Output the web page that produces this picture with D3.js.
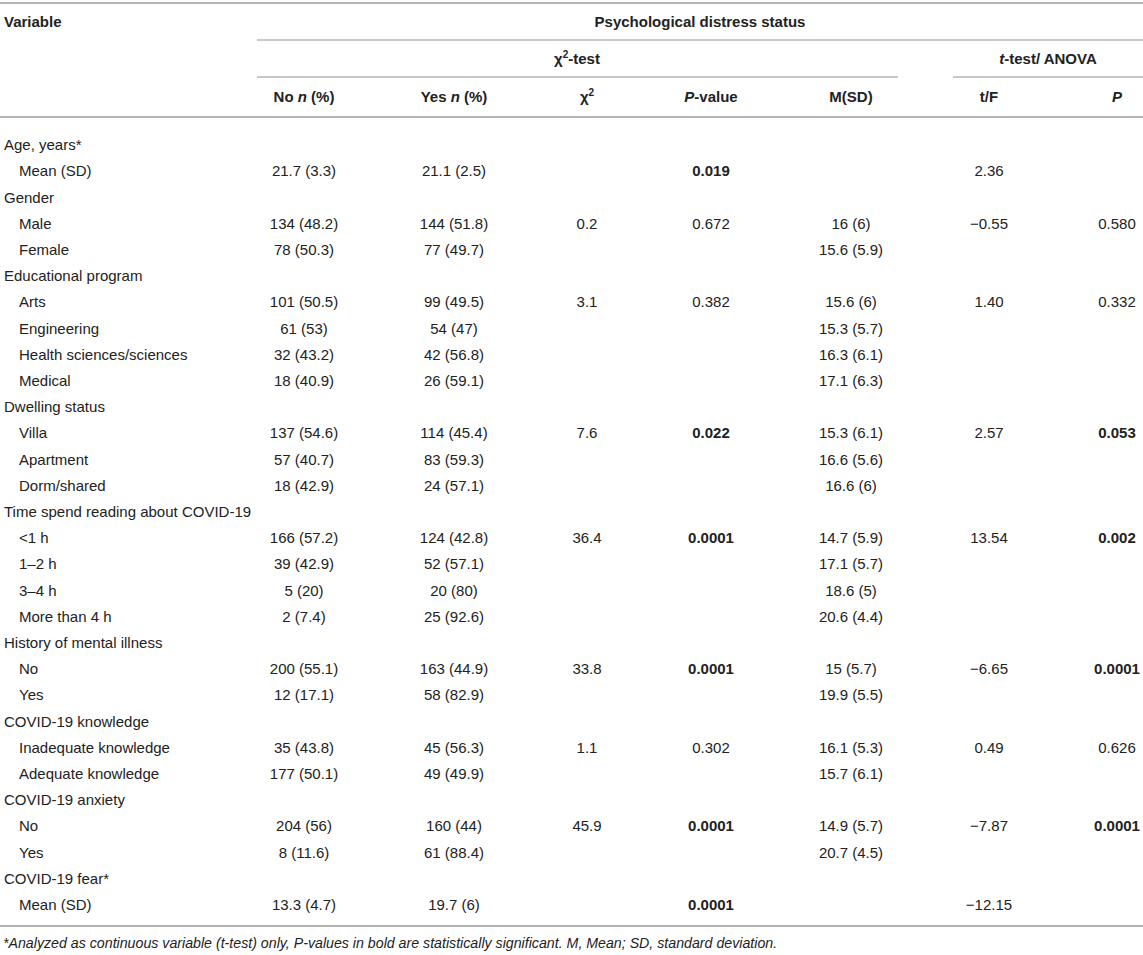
<!DOCTYPE html>
<html>
<head>
<meta charset="utf-8">
<script src="https://cdn.jsdelivr.net/npm/d3@7"></script>
<style>
  body { margin: 0; background: #fff; }
  text { font-family: "Liberation Sans", Arial, Helvetica, sans-serif; font-size: 15px; fill: #222; }
  .hd { font-weight: 700; }
  .note { font-size: 14.2px; font-style: italic; }
</style>
</head>
<body>
<svg id="chart" width="1143" height="955"></svg>
<script>
"use strict";

// ---- Table content (row order as printed)
const rowLabels = [
  "Age, years*", "Mean (SD)",
  "Gender", "Male", "Female",
  "Educational program", "Arts", "Engineering", "Health sciences/sciences", "Medical",
  "Dwelling status", "Villa", "Apartment", "Dorm/shared",
  "Time spend reading about COVID-19", "<1 h", "1–2 h", "3–4 h", "More than 4 h",
  "History of mental illness", "No", "Yes",
  "COVID-19 knowledge", "Inadequate knowledge", "Adequate knowledge",
  "COVID-19 anxiety", "No", "Yes",
  "COVID-19 fear*", "Mean (SD)"
];
// 0 = variable heading, 1 = indented level
const rowLevel = [0,1, 0,1,1, 0,1,1,1,1, 0,1,1,1, 0,1,1,1,1, 0,1,1, 0,1,1, 0,1,1, 0,1];

const noN = ["","21.7 (3.3)", "","134 (48.2)","78 (50.3)",
  "","101 (50.5)","61 (53)","32 (43.2)","18 (40.9)",
  "","137 (54.6)","57 (40.7)","18 (42.9)",
  "","166 (57.2)","39 (42.9)","5 (20)","2 (7.4)",
  "","200 (55.1)","12 (17.1)", "","35 (43.8)","177 (50.1)",
  "","204 (56)","8 (11.6)", "","13.3 (4.7)"];
const yesN = ["","21.1 (2.5)", "","144 (51.8)","77 (49.7)",
  "","99 (49.5)","54 (47)","42 (56.8)","26 (59.1)",
  "","114 (45.4)","83 (59.3)","24 (57.1)",
  "","124 (42.8)","52 (57.1)","20 (80)","25 (92.6)",
  "","163 (44.9)","58 (82.9)", "","45 (56.3)","49 (49.9)",
  "","160 (44)","61 (88.4)", "","19.7 (6)"];
const chi2 = ["","", "","0.2","", "","3.1","","","", "","7.6","","",
  "","36.4","","","", "","33.8","", "","1.1","", "","45.9","", "",""];
const pValue = ["","0.019", "","0.672","", "","0.382","","","", "","0.022","","",
  "","0.0001","","","", "","0.0001","", "","0.302","", "","0.0001","", "","0.0001"];
const mSD = ["","", "","16 (6)","15.6 (5.9)",
  "","15.6 (6)","15.3 (5.7)","16.3 (6.1)","17.1 (6.3)",
  "","15.3 (6.1)","16.6 (5.6)","16.6 (6)",
  "","14.7 (5.9)","17.1 (5.7)","18.6 (5)","20.6 (4.4)",
  "","15 (5.7)","19.9 (5.5)", "","16.1 (5.3)","15.7 (6.1)",
  "","14.9 (5.7)","20.7 (4.5)", "",""];
const tF = ["","2.36", "","−0.55","", "","1.40","","","", "","2.57","","",
  "","13.54","","","", "","−6.65","", "","0.49","", "","−7.87","", "","−12.15"];
const pT = ["","", "","0.580","", "","0.332","","","", "","0.053","","",
  "","0.002","","","", "","0.0001","", "","0.626","", "","0.0001","", "",""];

// rows whose P shown in bold (significant)
const boldPValue = [1, 11, 15, 20, 26, 29];
const boldPT = [11, 15, 20, 26];

const footnote = "*Analyzed as continuous variable (t-test) only, P-values in bold are statistically significant. M, Mean; SD, standard deviation.";

// ---- Layout
const svg = d3.select("#chart");
const W = +svg.attr("width");
const lineCol = "#b4b4b4";

const colKeys = ["no","yes","chi","p","msd","tf","pt"];
const colX = d3.scaleOrdinal().domain(colKeys).range([304, 454, 587, 711, 851, 989, 1117]);
const colData = { no: noN, yes: yesN, chi: chi2, p: pValue, msd: mSD, tf: tF, pt: pT };
const colBold = { p: boldPValue, pt: boldPT };

const y = d3.scaleBand().domain(d3.range(rowLabels.length)).range([132, 918]);
const yc = i => y(i) + y.bandwidth() / 2;

// ---- Rules
function rule(x1, x2, yy, w) {
  svg.append("line").attr("x1", x1).attr("x2", x2).attr("y1", yy).attr("y2", yy)
    .attr("stroke", lineCol).attr("stroke-width", w);
}
rule(0, W, 3, 2);
rule(257, W, 40, 1.5);
rule(257, 898, 77, 1.5);
rule(953, W, 77, 1.5);
rule(0, W, 117, 2);
rule(0, W, 926, 2);

// ---- Header (rich text via tspans)
function rich(x, yy, parts, anchor) {
  const t = svg.append("text").attr("class", "hd").attr("x", x).attr("y", yy + 5)
    .attr("text-anchor", anchor || "middle");
  parts.forEach(p => {
    const s = t.append("tspan").text(p.t);
    if (p.i) s.style("font-style", "italic");
    if (p.sup) s.attr("dy", -6).style("font-size", "10px");
    if (p.down) s.attr("dy", 6);
  });
  return t;
}

rich(4, 21.5, [{t: "Variable"}], "start");
rich((257 + W) / 2, 21.5, [{t: "Psychological distress status"}]);
rich(577, 58.5, [{t: "χ"}, {t: "2", sup: true}, {t: "-test", down: true}]);
rich(1048, 58.5, [{t: "t", i: true}, {t: "-test/ ANOVA"}]);

const colHeads = {
  no:  [{t: "No "}, {t: "n", i: true}, {t: " (%)"}],
  yes: [{t: "Yes "}, {t: "n", i: true}, {t: " (%)"}],
  chi: [{t: "χ"}, {t: "2", sup: true}],
  p:   [{t: "P", i: true}, {t: "-value"}],
  msd: [{t: "M(SD)"}],
  tf:  [{t: "t/F"}],
  pt:  [{t: "P", i: true}]
};
colKeys.forEach(k => rich(colX(k), 97, colHeads[k]));

// ---- Body
const body = svg.append("g");

body.selectAll("text.lab").data(rowLabels).enter().append("text")
  .attr("class", "lab")
  .attr("x", (d, i) => rowLevel[i] ? 19 : 4)
  .attr("y", (d, i) => yc(i) + 5)
  .text(d => d);

colKeys.forEach(k => {
  const bold = colBold[k] || [];
  body.selectAll(`text.c-${k}`).data(colData[k]).enter().append("text")
    .attr("class", `c-${k}`)
    .attr("x", colX(k))
    .attr("y", (d, i) => yc(i) + 5)
    .attr("text-anchor", "middle")
    .style("font-weight", (d, i) => bold.includes(i) ? 700 : 400)
    .text(d => d);
});

// ---- Footnote
svg.append("text").attr("class", "note").attr("x", 3).attr("y", 948).text(footnote);
</script>
</body>
</html>
